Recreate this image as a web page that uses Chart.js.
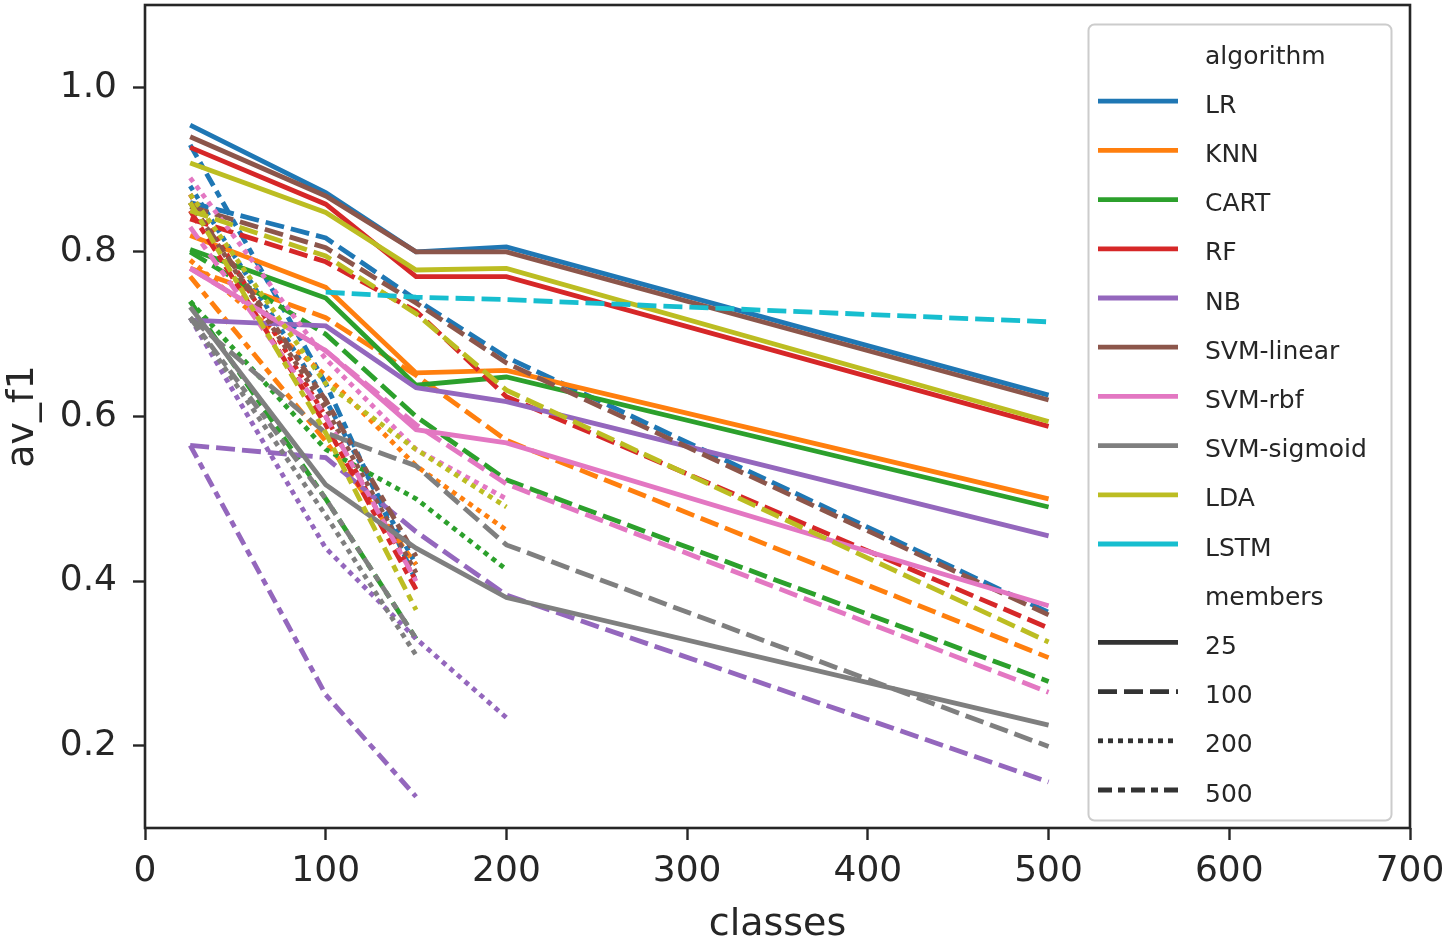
<!DOCTYPE html>
<html>
<head>
<meta charset="utf-8">
<script src="https://cdn.jsdelivr.net/npm/chart.js@4.4.1/dist/chart.umd.min.js"></script>
<style>
  body { margin: 0; background: #fff; }
  #wrap { width: 1445px; height: 944px; position: relative; }
</style>
</head>
<body>
<div id="wrap"><canvas id="myChart"></canvas></div>
<script>
const classes = [25, 100, 150, 200, 500];
const algorithms = ["LR", "KNN", "CART", "RF", "NB", "SVM-linear", "SVM-rbf", "SVM-sigmoid", "LDA", "LSTM"];
const members = ["25", "100", "200", "500"];
const xTicks = [0, 100, 200, 300, 400, 500, 600, 700];
const yTicks = [0.2, 0.4, 0.6, 0.8, 1.0];

// av_f1 for classes 25, 100, 150, 200, 500 (null = not run), one row per algorithm
const f1Members25 = [
  [0.954, 0.872, 0.800, 0.806, 0.626],
  [0.820, 0.757, 0.653, 0.656, 0.500],
  [0.803, 0.744, 0.638, 0.648, 0.490],
  [0.927, 0.858, 0.770, 0.770, 0.588],
  [0.717, 0.710, 0.635, 0.618, 0.455],
  [0.940, 0.868, 0.800, 0.800, 0.620],
  [0.780, 0.680, 0.584, 0.568, 0.370],
  [0.733, 0.517, 0.440, 0.380, 0.225],
  [0.908, 0.848, 0.778, 0.780, 0.594],
  [null, null, null, null, null],
];
const f1Members100 = [
  [0.860, 0.817, 0.742, 0.672, 0.362],
  [0.780, 0.720, 0.650, 0.571, 0.307],
  [0.800, 0.700, 0.600, 0.523, 0.278],
  [0.840, 0.788, 0.728, 0.624, 0.343],
  [0.565, 0.550, 0.460, 0.383, 0.156],
  [0.855, 0.805, 0.738, 0.665, 0.359],
  [0.780, 0.680, 0.590, 0.518, 0.265],
  [0.720, 0.580, 0.540, 0.444, 0.199],
  [0.850, 0.795, 0.725, 0.632, 0.326],
  [null, 0.751, 0.745, 0.742, 0.715],
];
const f1Members200 = [
  [0.880, 0.620, 0.420, null, null],
  [0.790, 0.650, 0.540, 0.462, null],
  [0.740, 0.560, 0.500, 0.414, null],
  [0.870, 0.600, 0.400, null, null],
  [0.720, 0.440, 0.330, 0.234, null],
  [0.860, 0.610, 0.410, null, null],
  [0.890, 0.670, 0.560, 0.500, null],
  [0.720, 0.480, 0.310, null, null],
  [0.870, 0.640, 0.560, 0.490, null],
  [null, null, null, null, null],
];
const f1Members500 = [
  [0.930, 0.640, 0.400, null, null],
  [0.770, 0.570, 0.420, null, null],
  [0.740, 0.500, 0.330, null, null],
  [0.850, 0.590, 0.390, null, null],
  [0.565, 0.262, 0.138, null, null],
  [0.860, 0.620, 0.430, null, null],
  [0.830, 0.600, 0.400, null, null],
  [0.720, 0.500, 0.330, null, null],
  [0.860, 0.580, 0.365, null, null],
  [null, null, null, null, null],
];

const colors = ["#1f77b4", "#ff7f0e", "#2ca02c", "#d62728", "#9467bd", "#8c564b", "#e377c2", "#7f7f7f", "#bcbd22", "#17becf"];
const dashes = [[], [19, 7], [5, 5], [14, 6, 7, 6]];
const byMembers = [f1Members25, f1Members100, f1Members200, f1Members500];
const lineW = 4.8;
const ink = "#262626";
const font = "'DejaVu Sans', sans-serif";

// seaborn order: hue first, then style; later lines on top
const datasets = [];
algorithms.forEach((alg, a) => {
  members.forEach((m, s) => {
    const pts = classes
      .map((c, i) => ({ x: c, y: byMembers[s][a][i] }))
      .filter((p) => p.y !== null);
    if (!pts.length) return;
    datasets.push({
      label: alg + " / " + m,
      data: pts,
      borderColor: colors[a],
      borderWidth: lineW,
      borderDash: dashes[s],
      borderCapStyle: "butt",
      pointRadius: 0,
      tension: 0,
      fill: false,
    });
  });
});
datasets.forEach((d, i) => (d.order = datasets.length - i));

// no extra label padding, so the plot box sits where matplotlib put it
const noPad = (s) => {
  s.paddingTop = 0;
  s.paddingBottom = 0;
  s.paddingLeft = 0;
  s.paddingRight = 0;
};

// spines on all four sides
const frame = {
  id: "frame",
  afterDatasetsDraw(chart) {
    const { ctx, chartArea: c } = chart;
    ctx.save();
    ctx.strokeStyle = ink;
    ctx.lineWidth = 2.6;
    ctx.strokeRect(c.left, c.top, c.right - c.left, c.bottom - c.top);
    ctx.restore();
  },
};

// legend box like seaborn (titles as blank entries)
const legendBox = {
  id: "legendBox",
  afterDraw(chart) {
    const ctx = chart.ctx;
    const entries = [{ text: "algorithm" }];
    algorithms.forEach((a, i) => entries.push({ text: a, color: colors[i], dash: [] }));
    entries.push({ text: "members" });
    members.forEach((m, i) => entries.push({ text: m, color: "#333333", dash: dashes[i] }));

    ctx.save();
    ctx.beginPath();
    ctx.roundRect(1088.5, 24.5, 303, 796, 6);
    ctx.fillStyle = "rgba(255,255,255,0.8)";
    ctx.fill();
    ctx.strokeStyle = "#cccccc";
    ctx.lineWidth = 2;
    ctx.stroke();

    ctx.font = "25px " + font;
    ctx.textBaseline = "middle";
    entries.forEach((e, i) => {
      const y = 57 + i * 49.2;
      if (e.color) {
        ctx.beginPath();
        ctx.setLineDash(e.dash);
        ctx.strokeStyle = e.color;
        ctx.lineWidth = lineW;
        ctx.moveTo(1098, y - 5);
        ctx.lineTo(1178, y - 5);
        ctx.stroke();
        ctx.setLineDash([]);
      }
      ctx.fillStyle = ink;
      ctx.fillText(e.text, 1205, y);
    });
    ctx.restore();
  },
};

const config = {
  type: "line",
  data: { datasets: datasets },
  options: {
    responsive: true,
    maintainAspectRatio: false,
    animation: false,
    layout: { padding: { top: 5, right: 35, bottom: 0, left: 0 } },
    plugins: {
      legend: { display: false },
      tooltip: { enabled: false },
    },
    scales: {
      x: {
        type: "linear",
        min: 0,
        max: 700,
        afterBuildTicks: (s) => (s.ticks = xTicks.map((v) => ({ value: v }))),
        afterFit: (s) => {
          s.height = 116;
          noPad(s);
        },
        ticks: { color: ink, font: { size: 36, family: font }, padding: 10, maxRotation: 0 },
        grid: { drawOnChartArea: false, tickLength: 12, tickWidth: 2.4, tickColor: ink },
        border: { display: false },
        title: {
          display: true,
          text: "classes",
          color: ink,
          font: { size: 38, family: font, lineHeight: 1.0 },
          padding: 0,
        },
      },
      y: {
        min: 0.1,
        max: 1.1,
        afterBuildTicks: (s) => (s.ticks = yTicks.map((v) => ({ value: v }))),
        afterFit: (s) => {
          s.width = 145;
          noPad(s);
        },
        ticks: {
          color: ink,
          font: { size: 36, family: font },
          padding: 16,
          callback: (v) => v.toFixed(1),
        },
        grid: { drawOnChartArea: false, tickLength: 12, tickWidth: 2.4, tickColor: ink },
        border: { display: false },
        title: { display: true, text: "av_f1", color: ink, font: { size: 38, family: font }, padding: 0 },
      },
    },
  },
  plugins: [frame, legendBox],
};

const myChart = new Chart(document.getElementById("myChart").getContext("2d"), config);
</script>
</body>
</html>
